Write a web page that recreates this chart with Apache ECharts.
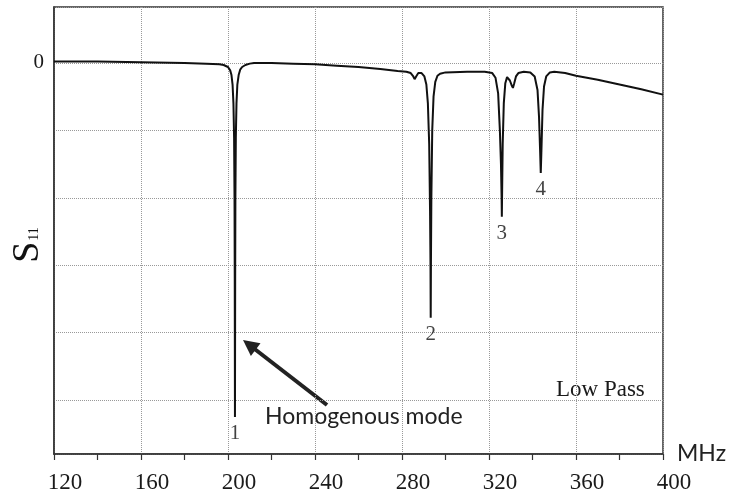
<!DOCTYPE html>
<html>
<head>
<meta charset="utf-8">
<script src="https://cdn.jsdelivr.net/npm/echarts@6/dist/echarts.min.js"></script>
<style>
html, body { margin: 0; background: #fff; }
#main { width: 733px; height: 500px; }
</style>
</head>
<body>
<div id="main"></div>
<script>
// frequency sweep (MHz) and S11, in grid units (0 = top line)
var freq = [120, 140, 160, 180, 190, 196, 198, 200, 201, 201.6, 202.1, 202.5, 202.8, 203.0, 203.1, 203.2, 203.3, 203.4, 203.6, 203.9, 204.3, 204.9, 205.6, 206.5, 208, 210, 212,
            220, 230, 240, 250, 260, 270, 278, 282, 284, 285.2, 285.8, 286.5, 287.5, 289, 290.3, 291.2, 291.9, 292.5, 292.9, 293.1, 293.2, 293.3, 293.5, 293.9, 294.5, 295.3, 296.3, 297.5, 300,
            310, 318, 321.5, 323, 324.2, 325.0, 325.5, 325.8, 325.9, 326.0, 326.3, 326.8, 327.5, 328.3, 328.8, 329.6, 330.4, 331, 331.6, 332.4, 333.5, 336,
            339, 341, 342.3, 343.0, 343.5, 343.8, 344.1, 344.6, 345.3, 346.3, 348, 350, 355, 360, 370, 380, 390, 400];
var s11 = [0.02, 0.02, 0.01, 0.0, -0.01, -0.02, -0.03, -0.06, -0.11, -0.18, -0.32, -0.6, -1.1, -2.0, -3.2, -5.25, -3.2, -2.0, -1.1, -0.6, -0.32, -0.18, -0.1, -0.06, -0.03, -0.01, 0.0,
           0.0, -0.01, -0.02, -0.04, -0.06, -0.09, -0.12, -0.13, -0.15, -0.2, -0.24, -0.2, -0.15, -0.15, -0.2, -0.32, -0.6, -1.2, -2.2, -3.0, -3.78, -3.0, -2.0, -1.0, -0.5, -0.28, -0.19, -0.16, -0.14,
           -0.13, -0.13, -0.15, -0.22, -0.45, -1.0, -1.5, -2.0, -2.28, -2.0, -1.2, -0.6, -0.3, -0.21, -0.21, -0.26, -0.33, -0.37, -0.3, -0.2, -0.15, -0.13,
           -0.14, -0.2, -0.4, -0.8, -1.3, -1.63, -1.3, -0.7, -0.35, -0.2, -0.14, -0.13, -0.15, -0.19, -0.25, -0.32, -0.39, -0.47];

// resonance markers
var dipNames = ['1', '2', '3', '4'];
var dipFreq = [203.2, 293.2, 325.9, 343.8];
var dipDepth = [-5.25, -3.78, -2.28, -1.63];

// x tick labels
var xTicks = [120, 160, 200, 240, 280, 320, 360, 400];

var serif = '"Liberation Serif", "Times New Roman", serif';
var sans = 'Lato, "Open Sans", sans-serif';

var dom = document.getElementById('main');
var myChart = echarts.init(dom);

var trace = [];
for (var i = 0; i < freq.length; i++) {
    trace.push([freq[i], s11[i]]);
}
var dips = [];
for (var j = 0; j < dipFreq.length; j++) {
    dips.push({ name: dipNames[j], value: [dipFreq[j], dipDepth[j]] });
}

var option = {
    backgroundColor: '#fff',
    animation: false,
    grid: {
        left: 54, right: 70, top: 7, bottom: 46,
        show: true, borderColor: '#333', borderWidth: 1.5,
        outerBoundsMode: 'none'
    },
    xAxis: {
        type: 'value',
        min: xTicks[0],
        max: xTicks[xTicks.length - 1],
        interval: xTicks[1] - xTicks[0],
        name: 'MHz',
        nameLocation: 'end',
        nameGap: 14,
        nameTextStyle: { fontFamily: sans, fontSize: 23, color: '#222', verticalAlign: 'middle', padding: [6, 0, 0, 0] },
        axisLine: { onZero: false, lineStyle: { color: '#333', width: 1.5 } },
        axisTick: { show: true, length: 6, lineStyle: { color: '#333', width: 1.2 } },
        minorTick: { show: true, splitNumber: 2, length: 6, lineStyle: { color: '#333', width: 1.2 } },
        axisLabel: { margin: 17, fontFamily: serif, fontSize: 23, color: '#1a1a1a', padding: [0, 0, 0, 22] },
        splitLine: { show: true, lineStyle: { type: 'dotted', color: '#999', width: 1 } }
    },
    yAxis: {
        type: 'value',
        min: -5.8,
        max: 0.83,
        axisLine: { show: true, onZero: false, lineStyle: { color: '#333', width: 1.5 } },
        axisTick: { show: false },
        axisLabel: {
            margin: 10, fontFamily: serif, fontSize: 21, color: '#1a1a1a',
            formatter: function (v) { return Math.abs(v) < 1e-9 ? '0' : ''; }
        },
        splitLine: { show: true, lineStyle: { type: 'dotted', color: '#999', width: 1 } }
    },
    series: [
        {
            name: 'S11',
            type: 'line',
            data: trace,
            showSymbol: false,
            lineStyle: { color: '#111', width: 2 },
            z: 3
        },
        {
            name: 'dips',
            type: 'scatter',
            data: dips,
            symbolSize: 1,
            itemStyle: { color: 'rgba(0,0,0,0)' },
            silent: true,
            label: {
                show: true, position: 'bottom', distance: 6,
                formatter: '{b}', fontFamily: serif, fontSize: 21, color: '#111'
            },
            z: 4
        }
    ],
    graphic: [
        {
            type: 'text', x: 28, y: 245, rotation: Math.PI / 2,
            style: {
                text: '{s|S}{sub|11}',
                align: 'center', verticalAlign: 'middle',
                fill: '#111',
                rich: {
                    s: { fontFamily: serif, fontSize: 38, fill: '#111' },
                    sub: { fontFamily: serif, fontSize: 14, fill: '#111', padding: [12, 0, 0, 1] }
                }
            }
        },
        {
            type: 'text', left: 265, top: 405,
            style: { text: 'Homogenous mode', font: '23px ' + sans, fill: '#222' }
        },
        {
            type: 'text', left: 556, top: 378,
            style: { text: 'Low Pass', font: '23px ' + serif, fill: '#1a1a1a' }
        },
        {
            type: 'line',
            shape: { x1: 327, y1: 405, x2: 254, y2: 348.5 },
            style: { stroke: '#222', lineWidth: 4 }
        },
        {
            type: 'polygon',
            shape: { points: [[243, 340], [260.5, 343.3], [250.9, 356.1]] },
            style: { fill: '#222' }
        }
    ]
};

if (option && typeof option === 'object') {
    myChart.setOption(option, true);
}
</script>
</body>
</html>
